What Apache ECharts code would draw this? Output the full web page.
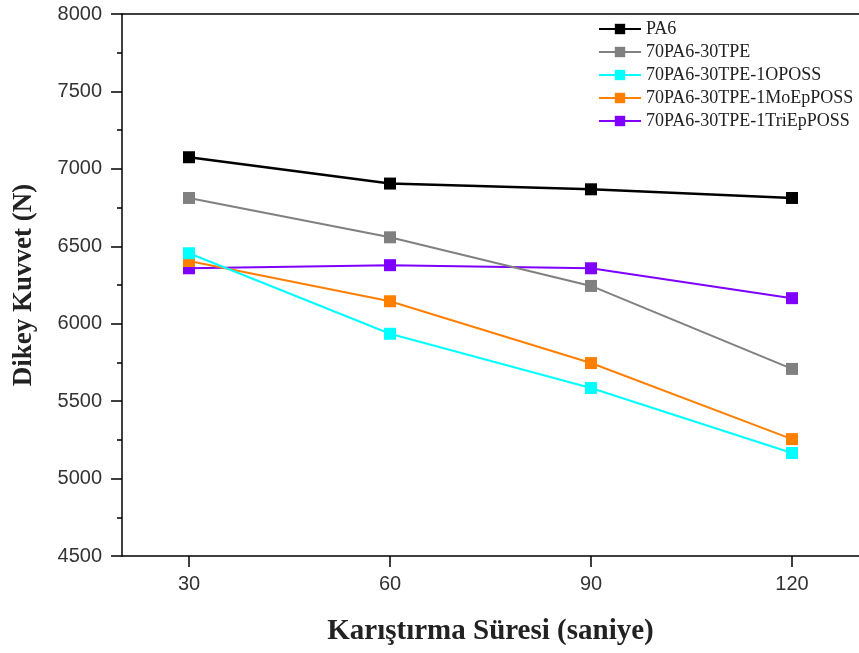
<!DOCTYPE html>
<html><head><meta charset="utf-8">
<script src="https://cdn.jsdelivr.net/npm/echarts@6/dist/echarts.min.js"></script>
<style>html,body{margin:0;padding:0;background:#fff}#c{width:859px;height:653px}</style>
</head><body><div id="c"></div>
<script>
const xValues = [30, 60, 90, 120];
const seriesNames = ['PA6', '70PA6-30TPE', '70PA6-30TPE-1OPOSS', '70PA6-30TPE-1MoEpPOSS', '70PA6-30TPE-1TriEpPOSS'];
const pa6 = [7075, 6905, 6868, 6812];
const tpe = [6812, 6558, 6244, 5708];
const oposs = [6455, 5935, 5585, 5165];
const moep = [6405, 6145, 5746, 5255];
const triep = [6358, 6378, 6358, 6165];
const colors = ['#000000', '#808080', '#00ffff', '#ff7f00', '#7f00ff'];

const allData = [pa6, tpe, oposs, moep, triep];
const serif = 'Liberation Serif, Times New Roman, serif';
const sans = 'Liberation Sans, Arial, sans-serif';
const chart = echarts.init(document.getElementById('c'));
chart.setOption({
  animation: false,
  backgroundColor: '#fff',
  grid: {left: 122, width: 740, top: 14, height: 542, show: false},
  legend: {
    orient: 'vertical', left: 593, top: 15, itemGap: 5, itemWidth: 42, itemHeight: 13,
    textStyle: {fontFamily: serif, fontSize: 18, color: '#222'},
    data: seriesNames
  },
  xAxis: [{
    type: 'value', min: 20, max: 130,
    name: 'Karıştırma Süresi (saniye)', nameLocation: 'middle', nameGap: 61,
    nameTextStyle: {fontFamily: serif, fontSize: 29, fontWeight: 'bold', color: '#222'},
    axisLine: {onZero: false, lineStyle: {color: '#000', width: 1.5}},
    axisTick: {show: true, length: 11, customValues: xValues, lineStyle: {color: '#000', width: 1.5}},
    axisLabel: {customValues: xValues, margin: 18, fontFamily: sans, fontSize: 20, color: '#333'},
    splitLine: {show: false}
  }, {
    type: 'value', min: 20, max: 130, position: 'top',
    axisLine: {show: true, onZero: false, lineStyle: {color: '#000', width: 1.5}},
    axisTick: {show: false}, axisLabel: {show: false}, splitLine: {show: false}
  }],
  yAxis: {
    type: 'value', min: 4500, max: 8000, interval: 500,
    name: 'Dikey Kuvvet (N)', nameLocation: 'middle', nameGap: 84,
    nameTextStyle: {fontFamily: serif, fontSize: 27, fontWeight: 'bold', color: '#222'},
    axisLine: {show: true, lineStyle: {color: '#000', width: 1.5}},
    axisTick: {show: true, length: 11, lineStyle: {color: '#000', width: 1.5}},
    minorTick: {show: true, splitNumber: 2, length: 5, lineStyle: {color: '#000', width: 1.5}},
    axisLabel: {margin: 20, fontFamily: sans, fontSize: 20, color: '#333', formatter: v => String(v)},
    splitLine: {show: false}
  },
  series: seriesNames.map((n, i) => ({
    name: n, type: 'line',
    data: xValues.map((x, j) => [x, allData[i][j]]),
    symbol: 'rect', symbolSize: 12,
    itemStyle: {color: colors[i]},
    lineStyle: {color: colors[i], width: i === 0 ? 2.5 : 2},
    z: 10 - i
  }))
});
</script></body></html>
